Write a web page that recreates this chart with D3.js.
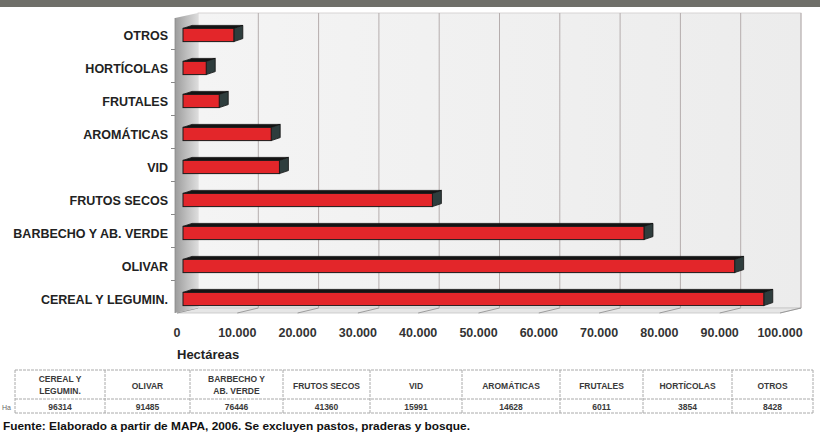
<!DOCTYPE html>
<html><head><meta charset="utf-8">
<script src="https://cdn.jsdelivr.net/npm/d3@7"></script>
<style>body{margin:0;background:#fff}svg{display:block}</style>
</head><body>
<svg id="c" width="820" height="436"></svg>
<script>
const categories = ["OTROS","HORTÍCOLAS","FRUTALES","AROMÁTICAS","VID","FRUTOS SECOS","BARBECHO Y AB. VERDE","OLIVAR","CEREAL Y LEGUMIN."];
const values = [8428,3854,6011,14628,15991,41360,76446,91485,96314];
const ticks = [0,10000,20000,30000,40000,50000,60000,70000,80000,90000,100000];
const tableHeaders = [["CEREAL Y","LEGUMIN."],["OLIVAR"],["BARBECHO Y","AB. VERDE"],["FRUTOS SECOS"],["VID"],["AROMÁTICAS"],["FRUTALES"],["HORTÍCOLAS"],["OTROS"]];
const tableValues = [96314,91485,76446,41360,15991,14628,6011,3854,8428];

const svg = d3.select("#c");
const FONT = "'Liberation Sans', Arial, sans-serif";
const X0 = 177, YB = 313, YT = 18;
const DX = 21, DY = -5;          // wall depth
const BX = 6, BY = -2;           // bar depth position
const CX = 9, CY = -3;           // bar thickness in depth
const x = d3.scaleLinear().domain([0,100000]).range([0,603]);
const y = d3.scaleBand().domain(categories).range([16.5+2, 313.5+2]).paddingInner(0.6).paddingOuter(0.3);

// top band
svg.append("rect").attr("x",0).attr("y",0).attr("width",820).attr("height",7).attr("fill","#6f6f69");

// gradients
const defs = svg.append("defs");
const g1 = defs.append("linearGradient").attr("id","side").attr("x1","0").attr("x2","1");
g1.append("stop").attr("offset","0").attr("stop-color","#9c9c9c");
g1.append("stop").attr("offset","0.5").attr("stop-color","#bdbdbd");
g1.append("stop").attr("offset","1").attr("stop-color","#dcdcdc");
const g2 = defs.append("linearGradient").attr("id","wall").attr("x1","0").attr("x2","1");
g2.append("stop").attr("offset","0").attr("stop-color","#f4f4f4");
g2.append("stop").attr("offset","1").attr("stop-color","#ececec");

// back wall
svg.append("rect").attr("x",X0+DX).attr("y",YT+DY).attr("width",x(100000)).attr("height",YB-YT)
  .attr("fill","url(#wall)").attr("stroke","#d0cccc").attr("stroke-width",0.8);
// grid lines
svg.append("g").selectAll("line").data(ticks.slice(1)).join("line")
  .attr("x1",d=>X0+DX+x(d)).attr("x2",d=>X0+DX+x(d))
  .attr("y1",YT+DY).attr("y2",YB+DY)
  .attr("stroke","#b5adad").attr("stroke-width",1);
// floor
svg.append("polygon")
  .attr("points",[[X0,YB],[X0+x(100000),YB],[X0+DX+x(100000),YB+DY],[X0+DX,YB+DY]].map(p=>p.join(",")).join(" "))
  .attr("fill","#e6e6e6").attr("stroke","#c4c4c4").attr("stroke-width",0.8);
svg.append("g").selectAll("line").data(ticks).join("line")
  .attr("x1",d=>X0+x(d)).attr("x2",d=>X0+DX+x(d))
  .attr("y1",YB).attr("y2",YB+DY)
  .attr("stroke","#8a8a8a").attr("stroke-width",0.8);
// side wall
svg.append("polygon")
  .attr("points",[[X0-2,YT],[X0+DX,YT+DY],[X0+DX,YB+DY],[X0-2,YB]].map(p=>p.join(",")).join(" "))
  .attr("fill","url(#side)");
svg.append("line").attr("x1",X0-2).attr("x2",X0-2).attr("y1",YT).attr("y2",YB).attr("stroke","#888").attr("stroke-width",0.8);
// category tick marks on side
svg.append("g").selectAll("line").data(categories.slice(1)).join("line")
  .attr("x1",X0-6).attr("x2",X0-2)
  .attr("y1",d=>y(d)-y.step()*y.paddingInner()/2 - 2).attr("y2",d=>y(d)-y.step()*y.paddingInner()/2 - 2)
  .attr("stroke","#888");

// bars
const bars = svg.append("g").selectAll("g").data(categories).join("g");
bars.each(function(c,i){
  const g = d3.select(this);
  const v = values[i];
  const x1 = X0+BX, x2 = X0+BX+x(v);
  const y1 = y(c), y2 = y(c)+y.bandwidth();
  g.append("polygon").attr("points",[[x1,y1],[x2,y1],[x2+CX,y1+CY],[x1+CX,y1+CY]].map(p=>p.join(",")).join(" "))
    .attr("fill","#141414").attr("stroke","#141414").attr("stroke-width",0.8);
  g.append("polygon").attr("points",[[x2,y1],[x2+CX,y1+CY],[x2+CX,y2+CY],[x2,y2]].map(p=>p.join(",")).join(" "))
    .attr("fill","#2e3d3d").attr("stroke","#111").attr("stroke-width",0.8);
  g.append("rect").attr("x",x1).attr("y",y1).attr("width",x(v)).attr("height",y.bandwidth())
    .attr("fill","#e3262a").attr("stroke","#1a1a1a").attr("stroke-width",1);
});

// category labels
svg.append("g").selectAll("text").data(categories).join("text")
  .attr("x",168).attr("y",d=>y(d)+y.bandwidth()/2+4.5)
  .attr("text-anchor","end").attr("font-family",FONT).attr("font-weight","bold")
  .attr("font-size",12.5).attr("fill","#222").text(d=>d);

// x axis tick labels
const fmt = d => d===0 ? "0" : d3.format(",")(d).replace(/,/g,".");
svg.append("g").selectAll("text").data(ticks).join("text")
  .attr("x",d=>X0+x(d)).attr("y",337).attr("text-anchor","middle")
  .attr("font-family",FONT).attr("font-weight","bold").attr("font-size",12.5).attr("fill","#333")
  .text(fmt);
svg.append("text").attr("x",X0).attr("y",359).attr("font-family",FONT).attr("font-weight","bold")
  .attr("font-size",13).attr("fill","#222").text("Hectáreas");

// table
const borders = [15,105,190,283,370,462,560,643,732,813];
const TT = 370, TM = 399, TBm = 413;
const tg = svg.append("g");
[TT,TM,TBm].forEach(yy=>{
  tg.append("line").attr("x1",borders[0]).attr("x2",borders[9]).attr("y1",yy).attr("y2",yy).attr("stroke","#aaa").attr("stroke-dasharray","3,1");
});
tg.selectAll("line.v").data(borders).join("line").attr("class","v")
  .attr("x1",d=>d).attr("x2",d=>d).attr("y1",TT).attr("y2",TBm).attr("stroke","#aaa").attr("stroke-dasharray","3,1");
tableHeaders.forEach((h,i)=>{
  const cx = (borders[i]+borders[i+1])/2;
  const t = tg.append("text").attr("x",cx).attr("text-anchor","middle").attr("font-family",FONT)
    .attr("font-weight","bold").attr("font-size",8.5).attr("fill","#3a3a3a");
  if(h.length===2){
    t.append("tspan").attr("x",cx).attr("y",382).text(h[0]);
    t.append("tspan").attr("x",cx).attr("y",393.5).text(h[1]);
  } else {
    t.attr("y",388.5).text(h[0]);
  }
  tg.append("text").attr("x",cx).attr("y",409.5).attr("text-anchor","middle").attr("font-family",FONT)
    .attr("font-weight","bold").attr("font-size",8.5).attr("fill","#3a3a3a").text(tableValues[i]);
});
tg.append("text").attr("x",2).attr("y",409.5).attr("font-family",FONT).attr("font-size",7).attr("fill","#666").text("Ha");

// source
svg.append("text").attr("x",3).attr("y",430).attr("font-family",FONT).attr("font-weight","bold")
  .attr("font-size",10.5).attr("fill","#111")
  .attr("textLength",467).attr("lengthAdjust","spacingAndGlyphs")
  .text("Fuente: Elaborado a partir de MAPA, 2006. Se excluyen pastos, praderas y bosque.");
</script>
</body></html>
